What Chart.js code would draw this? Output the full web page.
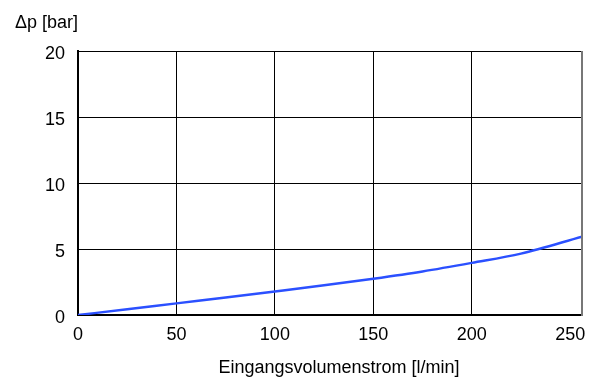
<!DOCTYPE html>
<html>
<head>
<meta charset="utf-8">
<script src="https://cdn.jsdelivr.net/npm/chart.js@4"></script>
<style>
html,body{margin:0;padding:0;background:#fff;}
#wrap{width:596px;height:379px;}
</style>
</head>
<body>
<div id="wrap"><canvas id="c" width="596" height="379"></canvas></div>
<script>
const flowValues = [0, 25, 50, 75, 100, 125, 150, 175, 200, 225, 256];
const pressureValues = [0, 0.43, 0.88, 1.32, 1.78, 2.25, 2.75, 3.3, 3.95, 4.65, 5.93];
const xTicks = [0, 50, 100, 150, 200, 250];
const yTicks = [0, 5, 10, 15, 20];
const yTitle = 'Δp [bar]';
const xTitle = 'Eingangsvolumenstrom [l/min]';

const FONT = 'Liberation Sans, Arial, sans-serif';

const extras = {
  id: 'extras',
  afterDraw(chart) {
    const {ctx, chartArea: a} = chart;
    ctx.save();
    ctx.strokeStyle = '#777';
    ctx.lineWidth = 2;
    ctx.beginPath();
    ctx.moveTo(a.right, a.top);
    ctx.lineTo(a.right, a.bottom + 1);
    ctx.stroke();
    ctx.fillStyle = '#000';
    ctx.font = '18px ' + FONT;
    ctx.textBaseline = 'middle';
    ctx.textAlign = 'left';
    ctx.fillText(yTitle, 15, 23);
    ctx.textAlign = 'center';
    ctx.fillText(xTitle, 339, 368);
    ctx.restore();
  }
};

new Chart(document.getElementById('c'), {
  type: 'line',
  data: {
    datasets: [{
      data: flowValues.map((x, i) => ({x, y: pressureValues[i]})),
      borderColor: '#2b50ff',
      borderWidth: 2.5,
      pointRadius: 0,
      cubicInterpolationMode: 'monotone',
      fill: false
    }]
  },
  options: {
    responsive: false,
    animation: false,
    layout: {padding: {top: 51, right: 14, left: 0, bottom: 0}},
    plugins: {legend: {display: false}, tooltip: {enabled: false}},
    scales: {
      x: {
        type: 'linear',
        min: 0,
        max: 256,
        afterBuildTicks(s) { s.ticks = xTicks.map(v => ({value: v})); },
        afterFit(s) { s.height = 64; },
        grid: {color: (c) => (c.tick && c.tick.value === 250 ? 'rgba(0,0,0,0)' : '#000'), lineWidth: 1, drawTicks: false},
        border: {color: '#000', width: 2},
        ticks: {color: '#000', font: {family: FONT, size: 18}, padding: 9}
      },
      y: {
        type: 'linear',
        min: 0,
        max: 20,
        afterBuildTicks(s) { s.ticks = yTicks.map(v => ({value: v})); },
        afterFit(s) { s.width = 78; },
        grid: {color: '#000', lineWidth: 1, drawTicks: false},
        border: {color: '#000', width: 2},
        ticks: {color: '#000', font: {family: FONT, size: 18}, padding: 13, labelOffset: 3}
      }
    }
  },
  plugins: [extras]
});
</script>
</body>
</html>
